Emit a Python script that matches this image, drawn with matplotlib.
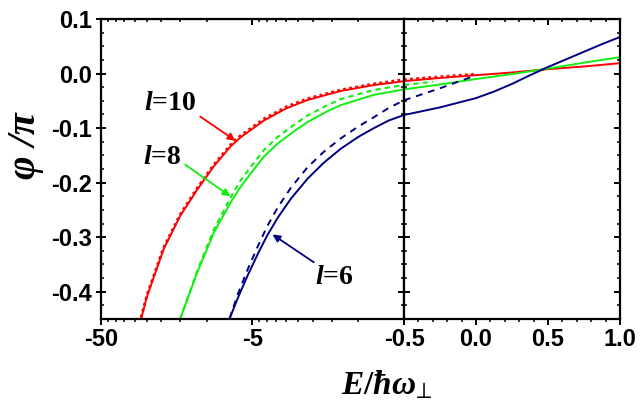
import numpy as np
import matplotlib
matplotlib.use('Agg')
import matplotlib.pyplot as plt
from matplotlib.ticker import FixedLocator, MultipleLocator, FuncFormatter, NullFormatter

plt.rcParams['mathtext.fontset'] = 'custom'
plt.rcParams['mathtext.it'] = 'Liberation Serif:italic:bold'
plt.rcParams['mathtext.rm'] = 'Liberation Serif:bold'
plt.rcParams['mathtext.fallback'] = 'stix'

# left panel: E < -0.5 (log of |E|)
E_red = [-27.2, -24.8, -19.3, -15.0, -11.6, -9.0, -7.0, -6.0, -4.2, -3.0, -2.17, -1.31, -0.79, -0.5]
phi_red = [-0.45, -0.408, -0.322, -0.261, -0.213, -0.170, -0.134, -0.117, -0.086, -0.064, -0.0485, -0.032, -0.021, -0.014]
phi_red_dot = [-0.447, -0.405, -0.319, -0.258, -0.210, -0.167, -0.131, -0.114, -0.083, -0.061, -0.046, -0.030, -0.019, -0.011]

E_green = [-15.0, -11.6, -9.0, -7.0, -6.0, -5.0, -4.2, -3.4, -2.6, -2.17, -1.6, -1.31, -0.79, -0.5]
phi_green = [-0.45, -0.365, -0.292, -0.237, -0.208, -0.179, -0.152, -0.128, -0.104, -0.089, -0.069, -0.058, -0.039, -0.029]
phi_green_dash = [-0.45, -0.362, -0.286, -0.228, -0.196, -0.167, -0.140, -0.116, -0.092, -0.077, -0.058, -0.047, -0.030, -0.021]

E_blue = [-7.1, -6.3, -5.4, -4.6, -4.0, -3.4, -2.8, -2.17, -1.7, -1.31, -1.0, -0.79, -0.63, -0.5]
phi_blue = [-0.45, -0.414, -0.371, -0.330, -0.297, -0.264, -0.230, -0.193, -0.164, -0.138, -0.116, -0.100, -0.086, -0.076]
phi_blue_dash = [-0.45, -0.407, -0.360, -0.316, -0.280, -0.245, -0.210, -0.172, -0.144, -0.119, -0.097, -0.080, -0.063, -0.049]

# right panel: -0.5 <= E <= 1.0 (linear)
E_r = [-0.5, -0.25, 0.0, 0.125, 0.25, 0.375, 0.5, 0.625, 0.75, 0.875, 1.0]
red_r = [-0.014, -0.008, -0.003, -0.0005, 0.002, 0.005, 0.008, 0.0105, 0.013, 0.016, 0.019]
green_r = [-0.029, -0.020, -0.010, -0.0055, -0.001, 0.004, 0.009, 0.0145, 0.020, 0.025, 0.030]
blue_r = [-0.076, -0.062, -0.045, -0.033, -0.019, -0.003, 0.012, 0.026, 0.040, 0.054, 0.067]

E_red_dot_r = [-0.5, -0.25, 0.0]
red_dot_r = [-0.011, -0.006, -0.001]
E_green_dash_r = [-0.5, -0.4, -0.3]
green_dash_r = [-0.021, -0.018, -0.015]
E_blue_dash_r = [-0.5, -0.25, -0.04]
blue_dash_r = [-0.049, -0.027, -0.007]

red, green, blue = '#ff0000', '#11ee11', '#000080'

fig = plt.figure(figsize=(6.42, 4.17), dpi=100)
axL = fig.add_axes([0.1573, 0.235, 0.472, 0.7194])
axR = fig.add_axes([0.6293, 0.235, 0.3364, 0.7194])

# left panel
axL.plot(-np.array(E_red), phi_red, color=red, lw=1.4)
axL.plot(-np.array(E_red), phi_red_dot, color=red, lw=2.0, ls=(0, (1, 1.2)))
axL.plot(-np.array(E_green), phi_green, color=green, lw=1.4)
axL.plot(-np.array(E_green), phi_green_dash, color=green, lw=1.5, ls=(0, (2.5, 2)))
axL.plot(-np.array(E_blue), phi_blue, color=blue, lw=1.4)
axL.plot(-np.array(E_blue), phi_blue_dash, color=blue, lw=1.4, ls=(0, (3.5, 3)))
axL.set_xscale('log')
axL.set_xlim(50, 0.5)
axL.set_ylim(-0.45, 0.1)

# right panel
axR.plot(E_r, red_r, color=red, lw=1.4)
axR.plot(E_red_dot_r, red_dot_r, color=red, lw=2.0, ls=(0, (1, 1.2)))
axR.plot(E_r, green_r, color=green, lw=1.4)
axR.plot(E_green_dash_r, green_dash_r, color=green, lw=1.5, ls=(0, (2.5, 2)))
axR.plot(E_r, blue_r, color=blue, lw=1.4)
axR.plot(E_blue_dash_r, blue_dash_r, color=blue, lw=1.4, ls=(0, (3.5, 3)))
axR.set_xlim(-0.5, 1.0)
axR.set_ylim(-0.45, 0.1)

tickfont = {'family': 'Liberation Sans', 'weight': 'bold', 'size': 17}
yfmt = FuncFormatter(lambda v, p: '%.1f' % (round(v, 2) + 0.0))

for ax in (axL, axR):
    for s in ax.spines.values():
        s.set_linewidth(1.6)
    ax.yaxis.set_major_locator(MultipleLocator(0.1))
    ax.yaxis.set_minor_locator(MultipleLocator(0.025))
    ax.tick_params(axis='x', which='major', direction='out', length=4.5, width=1.4, pad=2)
    ax.tick_params(axis='x', which='minor', direction='out', length=2.5, width=1.1)

# left ticks
minor_log = list(np.arange(10, 50, 5)) + list(np.arange(1, 5, 0.5))
axL.xaxis.set_major_locator(FixedLocator([50, 5, 0.5]))
axL.xaxis.set_minor_locator(FixedLocator(minor_log))
axL.xaxis.set_major_formatter(FuncFormatter(lambda v, p: {50: '-50', 5: '-5'}.get(round(v, 3), '')))
axL.xaxis.set_minor_formatter(NullFormatter())
axL.yaxis.set_major_formatter(yfmt)
axL.tick_params(axis='y', which='major', direction='inout', length=6.5, width=1.4, right=False, pad=3)
axL.tick_params(axis='y', which='minor', direction='in', length=2.5, width=1.1, right=False)

topL = axL.secondary_xaxis('top')
topL.xaxis.set_major_locator(FixedLocator([50, 5, 0.5]))
topL.xaxis.set_minor_locator(FixedLocator(minor_log))
topL.tick_params(which='major', direction='in', length=4.5, width=1.4, labeltop=False)
topL.tick_params(which='minor', direction='in', length=2.5, width=1.1)
topL.xaxis.set_minor_formatter(NullFormatter())
rightL = axL.secondary_yaxis('right')
rightL.yaxis.set_major_locator(MultipleLocator(0.1))
rightL.yaxis.set_minor_locator(MultipleLocator(0.025))
rightL.tick_params(which='major', direction='in', length=4.5, width=1.4, labelright=False)
rightL.tick_params(which='minor', direction='in', length=2.5, width=1.1)

# right ticks
axR.xaxis.set_major_locator(MultipleLocator(0.5))
axR.xaxis.set_minor_locator(MultipleLocator(0.1))
axR.xaxis.set_major_formatter(FuncFormatter(lambda v, p: '%.1f' % (round(v, 2) + 0.0)))
axR.tick_params(axis='y', which='major', direction='in', length=4.5, width=1.4, left=True, right=True, labelleft=False)
axR.tick_params(axis='y', which='minor', direction='in', length=2.5, width=1.1, left=True, right=True)
topR = axR.secondary_xaxis('top')
topR.xaxis.set_major_locator(MultipleLocator(0.5))
topR.xaxis.set_minor_locator(MultipleLocator(0.1))
topR.tick_params(which='major', direction='in', length=4.5, width=1.4, labeltop=False)
topR.tick_params(which='minor', direction='in', length=2.5, width=1.1)
for lab in axL.get_xticklabels() + axL.get_yticklabels() + axR.get_xticklabels():
    lab.set_fontproperties(tickfont)

# curve labels and arrows
lab_kw = dict(fontfamily='Liberation Serif', fontweight='bold', fontsize=20, ha='center', va='center')
axL.text(0.228, 0.72, r'$l$=10', transform=axL.transAxes, **lab_kw)
axL.text(0.201, 0.537, r'$l$=8', transform=axL.transAxes, **lab_kw)
axL.text(0.769, 0.14, r'$l$=6', transform=axL.transAxes, **lab_kw)
arrows = [((6.48, -0.123), (11.05, -0.079), red),
          ((7.0, -0.225), (13.9, -0.167), green),
          ((3.69, -0.295), (1.97, -0.346), blue)]
for head, tail, c in arrows:
    axL.annotate('', xy=head, xytext=tail,
                 arrowprops=dict(arrowstyle='-|>', color=c, lw=1.3, mutation_scale=11, shrinkA=0, shrinkB=0))

fig.text(26 / 642, 1 - 146 / 417, 'φ /π', rotation=90, ha='center', va='center',
         fontfamily='Liberation Serif', fontstyle='italic', fontweight='bold', fontsize=29)
fig.text(387 / 642, 1 - 394 / 417, r'$E/ħω_{⊥}$', ha='center', va='baseline', fontsize=24)

fig.savefig('out.png', dpi=100)
